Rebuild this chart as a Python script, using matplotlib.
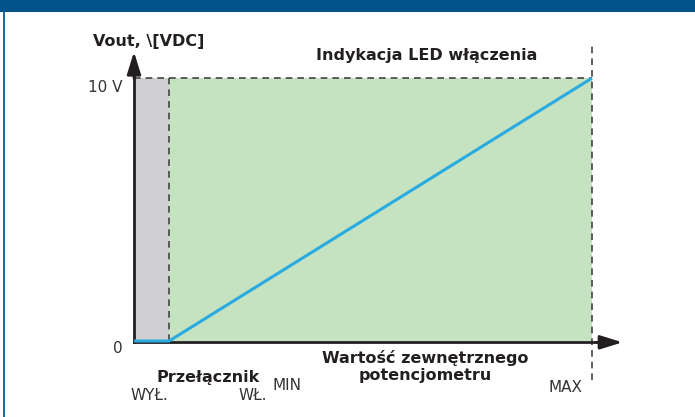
import matplotlib
matplotlib.use("Agg")
import matplotlib.pyplot as plt
from matplotlib.patches import Rectangle

# Data (x: switch region then potentiometer 0..100 %, y: output voltage)
x_switch_off = -8.3
x_min = 0.0
x_max = 100.0
v_max = 10.0
line_x = [x_switch_off, x_min, x_max]
line_y = [0.0, 0.0, v_max]
y_tick_labels = ["0", "10 V"]
y_tick_values = [0.0, 10.0]

plt.rcParams['font.family'] = ['DejaVu Sans']

fig = plt.figure(figsize=(6.95, 4.17), dpi=100)
ax = fig.add_axes([0, 0, 1, 1])
ax.set_xlim(-39.98, 124.35)
ax.set_ylim(-2.89, 12.97)
ax.axis('off')

# regions
ax.add_patch(Rectangle((x_switch_off, 0), x_min - x_switch_off, v_max,
                       facecolor='#cfcfd1', edgecolor='none', zorder=1))
ax.add_patch(Rectangle((x_min, 0), x_max - x_min, v_max,
                       facecolor='#c5e3c0', edgecolor='none', zorder=1))

dash_kw = dict(color='#444444', lw=1.2, ls=(0, (4, 3)), zorder=2)
ax.plot([x_switch_off, x_max], [v_max, v_max], **dash_kw)
ax.plot([x_min, x_min], [0, v_max], **dash_kw)
ax.plot([x_max, x_max], [-1.5, 11.25], **dash_kw)

# output line
ax.plot(line_x, line_y, color='#29abe2', lw=2.2, zorder=4, solid_capstyle='butt')

# axes with arrows
arrow_kw = dict(arrowstyle='-|>,head_length=1.35,head_width=0.42',
                color='#231f20', lw=2, shrinkA=0, shrinkB=0)
ax.plot([x_switch_off, 104], [-0.05, -0.05], color='#231f20', lw=2, zorder=3)
ax.annotate('', xy=(107.2, -0.05), xytext=(101, -0.05), arrowprops=arrow_kw, zorder=3)
ax.plot([x_switch_off, x_switch_off], [-0.05, 10.3], color='#231f20', lw=2, zorder=3)
ax.annotate('', xy=(x_switch_off, 11.0), xytext=(x_switch_off, 10.0), arrowprops=arrow_kw, zorder=3)

# tick labels
ax.text(-11.1, y_tick_values[1] - 0.35, y_tick_labels[1], ha='right', va='center',
        fontsize=11, color='#333333')
ax.text(-11.1, y_tick_values[0] - 0.27, y_tick_labels[0], ha='right', va='center',
        fontsize=11, color='#333333')

# labels
bold_kw = dict(ha='center', va='center', fontsize=11.5, fontweight='bold', color='#231f20')
ax.text(-4.87, 11.39, "Vout, \\[VDC]", **bold_kw)
ax.text(60.85, 10.87, "Indykacja LED włączenia", **bold_kw)
ax.text(60.6, -0.97, "Wartość zewnętrznego\npotencjometru", linespacing=1.15, **bold_kw)
ax.text(9.19, -1.37, "Przełącznik", **bold_kw)

norm_kw = dict(ha='center', va='center', fontsize=11, color='#333333')
ax.text(-4.76, -2.09, "WYŁ.", **norm_kw)
ax.text(19.83, -2.09, "WŁ.", **norm_kw)
ax.text(27.99, -1.71, "MIN", **norm_kw)
ax.text(93.8, -1.75, "MAX", **norm_kw)

# header band and left border
fig.patches.append(Rectangle((0, 1 - 12 / 417), 1, 12 / 417, transform=fig.transFigure,
                             facecolor='#00528a', edgecolor='none', zorder=0))
fig.patches.append(Rectangle((2.8 / 695, 0), 2 / 695, 1 - 12 / 417, transform=fig.transFigure,
                             facecolor='#1d6aa5', edgecolor='none', zorder=0))

fig.savefig('out.png', dpi=100)
